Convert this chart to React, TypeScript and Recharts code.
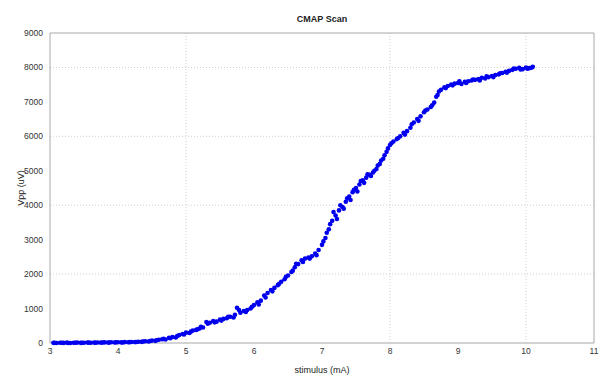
import React from "react";
import {
  ScatterChart,
  Scatter,
  XAxis,
  YAxis,
  CartesianGrid,
  ReferenceLine,
} from "recharts";

// stimulus sweep (mA) and measured peak-to-peak amplitude (uV)
const stimulus = [
  3.05, 3.1, 3.15, 3.2, 3.25, 3.3, 3.35, 3.4, 3.45, 3.5, 3.55, 3.6, 3.65, 3.7, 3.75, 3.8, 3.85, 3.9, 3.95, 4.0,
  4.05, 4.1, 4.15, 4.2, 4.25, 4.3, 4.35, 4.4, 4.45, 4.5, 4.55, 4.6, 4.65, 4.7, 4.75, 4.8, 4.85, 4.9, 4.95, 5.0,
  5.05, 5.1, 5.15, 5.2, 5.25, 5.3, 5.35, 5.4, 5.45, 5.5, 5.55, 5.6, 5.65, 5.7, 5.75, 5.8, 5.85, 5.9, 5.95, 6.0,
  6.05, 6.1, 6.15, 6.2, 6.25, 6.3, 6.35, 6.4, 6.45, 6.5, 6.55, 6.6, 6.65, 6.7, 6.75, 6.8, 6.85, 6.9, 6.95, 7.0,
  7.05, 7.1, 7.15, 7.2, 7.25, 7.3, 7.35, 7.4, 7.45, 7.5, 7.55, 7.6, 7.65, 7.7, 7.75, 7.8, 7.85, 7.9, 7.95, 8.0,
  8.05, 8.1, 8.15, 8.2, 8.25, 8.3, 8.35, 8.4, 8.45, 8.5, 8.55, 8.6, 8.65, 8.7, 8.75, 8.8, 8.85, 8.9, 8.95, 9.0,
  9.05, 9.1, 9.15, 9.2, 9.25, 9.3, 9.35, 9.4, 9.45, 9.5, 9.55, 9.6, 9.65, 9.7, 9.75, 9.8, 9.85, 9.9, 9.95, 10.0,
  10.05, 10.1,
];
const vpp = [
  5, 0, 8, 3, 10, 2, 6, 12, 4, 9, 14, 6, 11, 16, 10, 18, 13, 20, 15, 22,
  18, 26, 21, 30, 26, 38, 34, 50, 45, 70, 62, 95, 110, 100, 150, 175, 160, 230, 260, 300,
  290, 360, 380, 420, 450, 610, 590, 640, 620, 680, 700, 720, 760, 740, 1020, 880, 930, 960, 1000, 1100,
  1180, 1230, 1380, 1450, 1540, 1600, 1680, 1780, 1850, 1960, 2060, 2200, 2290, 2400, 2450, 2480, 2520, 2600, 2700, 2850,
  3050, 3300, 3550, 3700, 3850, 3950, 4100, 4250, 4380, 4500, 4600, 4720, 4800, 4880, 4950, 5050, 5200, 5350, 5550, 5750,
  5850, 5920, 6000, 6100, 6150, 6250, 6400, 6500, 6580, 6700, 6780, 6850, 6980, 7200, 7350, 7420, 7460, 7500, 7530, 7550,
  7520, 7580, 7600, 7620, 7640, 7660, 7700, 7680, 7720, 7750, 7780, 7800, 7840, 7870, 7900, 7930, 7960, 7990, 7950, 8000,
  7980, 8020,
];

// repeat readings that scatter around the main trace
const stimulusRepeat = [
  3.07, 3.17, 3.27, 3.37, 3.47, 3.57, 3.67, 3.77, 3.87, 3.97, 4.07, 4.17, 4.27, 4.37, 4.47, 4.57, 4.67, 4.77, 4.87, 4.97,
  5.07, 5.17,
  5.22, 5.32, 5.42, 5.52, 5.62, 5.72, 5.78, 5.88, 5.97, 6.07, 6.17, 6.27, 6.37, 6.47, 6.57, 6.62, 6.72, 6.82, 6.92, 7.02,
  7.07, 7.12, 7.17, 7.22, 7.27, 7.32, 7.37, 7.42, 7.47, 7.52, 7.57, 7.62, 7.67, 7.72, 7.77, 7.82, 7.87, 7.92, 7.97, 8.02,
  8.12, 8.22, 8.32, 8.42, 8.52, 8.62, 8.68, 8.72, 8.82, 8.92, 9.02, 9.12, 9.22, 9.32, 9.42, 9.52, 9.62, 9.72, 9.82, 9.92,
  10.02, 10.08,
];
const vppRepeat = [
  3, 6, 1, 9, 5, 10, 7, 14, 11, 19, 16, 24, 31, 42, 58, 80, 120, 140, 200, 250,
  330, 400,
  470, 560, 600, 650, 760, 820, 960, 900, 1050, 1120, 1320, 1500, 1720, 1920, 2100, 2300, 2350, 2450, 2550, 2950,
  3200, 3450, 3800, 3600, 4000, 3900, 4200, 4150, 4450, 4400, 4700, 4650, 4900, 4850, 5000, 5150, 5300, 5450, 5650, 5800,
  5950, 6050, 6350, 6450, 6750, 6900, 7150, 7300, 7400, 7480, 7600, 7550, 7650, 7620, 7740, 7720, 7830, 7850, 7970, 7940,
  7960, 7990,
];

const xTicks = [3, 4, 5, 6, 7, 8, 9, 10, 11];
const yTicks = [0, 1000, 2000, 3000, 4000, 5000, 6000, 7000, 8000, 9000];
const xGrid = [5, 8, 10];
const yGrid = [2000, 4000, 6000, 8000];

const points = [
  ...stimulus.map((x, i) => ({ x, y: vpp[i] })),
  ...stimulusRepeat.map((x, i) => ({ x, y: vppRepeat[i] })),
];

const font = "'Liberation Sans', Arial, sans-serif";
const axisColor = "#a8a8a8";

const Dot = (p: any) => <circle cx={p.cx} cy={p.cy} r={2.3} fill="#0000ee" />;

export default function App() {
  return (
    <div style={{ position: "fixed", left: 0, top: 0, width: 603, height: 378, background: "#fff", fontFamily: font }}>
      <div
        style={{
          position: "absolute",
          top: 14,
          left: 50,
          width: 544,
          textAlign: "center",
          fontSize: 9,
          fontWeight: "bold",
          color: "#222",
        }}
      >
        CMAP Scan
      </div>
      <ScatterChart width={603} height={378} margin={{ top: 33, right: 9, bottom: 0, left: 8 }}>
        <CartesianGrid
          stroke="#cfcfcf"
          strokeDasharray="1 2"
          verticalValues={xGrid}
          horizontalValues={yGrid}
        />
        <XAxis
          type="number"
          dataKey="x"
          domain={[3, 11]}
          ticks={xTicks}
          allowDataOverflow
          height={35}
          stroke={axisColor}
          tickLine={false}
          tickSize={0}
          tickMargin={5}
          tick={{ fill: "#333", fontSize: 8.5, fontFamily: font }}
          label={{ value: "stimulus (mA)", position: "insideBottom", offset: 5, fill: "#222", fontSize: 9, fontFamily: font }}
        />
        <YAxis
          type="number"
          dataKey="y"
          domain={[0, 9000]}
          ticks={yTicks}
          width={42}
          stroke={axisColor}
          tickLine={false}
          tickSize={0}
          tickMargin={7}
          tick={{ fill: "#333", fontSize: 8.5, fontFamily: font }}
          label={{ value: "Vpp (uV)", angle: -90, position: "insideLeft", offset: 13, fill: "#222", fontSize: 9, fontFamily: font, style: { textAnchor: "middle" } }}
        />
        <ReferenceLine y={9000} stroke={axisColor} />
        <ReferenceLine x={11} stroke={axisColor} />
        <Scatter data={points} shape={Dot} isAnimationActive={false} />
      </ScatterChart>
    </div>
  );
}
